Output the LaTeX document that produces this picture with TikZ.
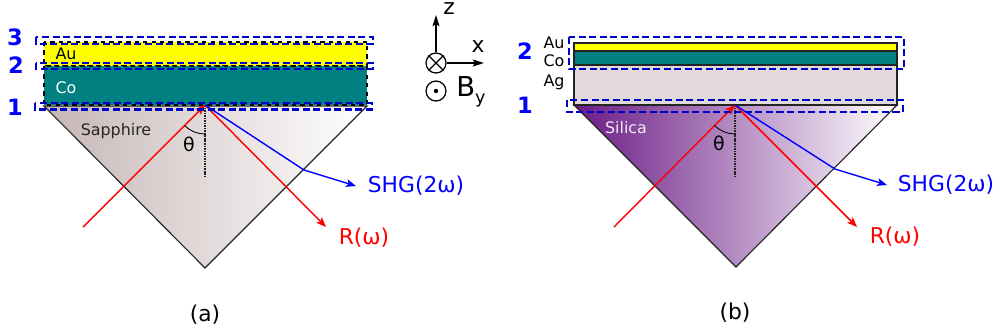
\documentclass[tikz,border=0pt]{standalone}
\usepackage{fontspec}
\setmainfont{DejaVu Sans}
\usepackage{xcolor}
\usetikzlibrary{arrows.meta}
\definecolor{goldlayer}{RGB}{255, 255, 0}
\definecolor{cobaltlayer}{RGB}{0, 128, 128}
\definecolor{silverlayer}{RGB}{226, 218, 218}
\definecolor{sapphireleft}{RGB}{198, 182, 182}
\definecolor{silicaleft}{RGB}{106, 27, 133}
\definecolor{regionblue}{RGB}{0, 0, 204}
\definecolor{labelblue}{RGB}{0, 0, 255}
\definecolor{darkline}{RGB}{35, 35, 35}

\begin{document}
\begin{tikzpicture}[
        x=0.025cm, y=-0.025cm,
        % Shape styles
        layerA/.style={draw=black, dashed, line width=0.9pt},
        layerB/.style={draw=darkline, line width=1.1pt},
        prism/.style={draw=darkline, line width=0.8pt},
        region/.style={draw=regionblue, dash pattern=on 5pt off 2.5pt, line width=1.6pt},
        normal/.style={draw=darkline, dash pattern=on 1.2pt off 0.6pt, line width=1pt},
        % Ray styles
        redray/.style={draw=red, -{Stealth[length=7pt, width=5.5pt, inset=1.5pt]}, line width=1pt},
        blueray/.style={draw=blue, -{Stealth[length=7pt, width=5.5pt, inset=1.5pt]}, line width=1pt},
        axis/.style={draw=black, -{Stealth[length=8pt, width=5pt, inset=1.5pt]}, line width=0.9pt},
        % Text styles
        small/.style={font=\fontsize{11.3}{13}\selectfont, inner sep=0pt},
        angle/.style={font=\fontsize{13.5}{15}\selectfont, inner sep=0pt},
        big/.style={font=\fontsize{15.5}{18}\selectfont, inner sep=0pt},
        number/.style={font=\fontsize{16}{18}\selectfont\bfseries, text=labelblue, inner sep=0pt}
    ]
    \useasboundingbox (0, 0) rectangle (995, 332);

    % Panel (a): prism
    \draw[prism, left color=sapphireleft, right color=white] (44, 106) -- (205, 268) -- (367, 106) -- cycle;

    % Panel (a): layers
    \draw[layerA, fill=goldlayer] (44, 42) rectangle (367, 66);
    \draw[layerA, fill=cobaltlayer] (44, 66) rectangle (367, 105);
    \node[small, text=black] (auA) at (66, 54) {Au};
    \node[small, text=white] (coA) at (66, 88) {Co};
    \node[small, text=black!85] (sapphire) at (116, 131) {Sapphire};

    % Panel (a): rays
    \coordinate (hitA) at (205, 105);
    \coordinate (inA) at (83, 227);
    \coordinate (outA) at (326, 227);
    \coordinate (kinkA) at (304, 170);
    \coordinate (endA) at (356, 186);
    \coordinate (normalA) at (205, 176);
    \draw[normal] (hitA) -- (normalA);
    \draw[redray] (inA) -- (hitA);
    \draw[redray] (hitA) -- (outA);
    \draw[blueray] (hitA) -- (kinkA) -- (endA);
    \draw[line width=0.6pt] (184.5, 125.5) arc[start angle=225, end angle=270, radius=0.725cm];
    \node[angle] (thetaA) at (189, 144) {θ};
    \node[big, text=labelblue] (shgA) at (416, 186) {SHG(2ω)};
    \node[big, text=red] (reflA) at (364, 238) {R(ω)};
    \node[big] (capA) at (205, 315) {(a)};

    % Panel (a): numbered regions
    \draw[region] (36, 37) rectangle (373, 44);
    \draw[region] (36, 63) rectangle (373, 69);
    \draw[region] (35, 103) rectangle (372, 109.5);
    \node[number] (threeA) at (15, 37) {3};
    \node[number] (twoA) at (16, 65) {2};
    \node[number] (oneA) at (15, 107) {1};

    % Axes
    \node[draw, circle, minimum size=0.5cm, inner sep=0pt, line width=0.9pt] (into) at (436, 63) {};
    \draw[line width=0.8pt] (into.45) -- (into.225);
    \draw[line width=0.8pt] (into.135) -- (into.315);
    \coordinate (zend) at (436, 15);
    \coordinate (xend) at (484, 63);
    \draw[axis] (into.north) -- (zend);
    \draw[axis] (into.east) -- (xend);
    \node[big] (zlabel) at (449, 9) {z};
    \node[big] (xlabel) at (478, 47) {x};
    \node[draw, circle, minimum size=0.5cm, inner sep=0pt, line width=0.9pt] (outof) at (436, 91) {};
    \node[fill, circle, minimum size=0.11cm, inner sep=0pt] (dot) at (outof) {};
    \node[anchor=west, inner sep=0pt, font=\fontsize{19.5}{22}\selectfont] (field) at (456, 92) {B\raisebox{-0.25em}{\fontsize{12.5}{14}\selectfont y}};

    % Panel (b): prism
    \draw[prism, left color=silicaleft, right color=white] (574, 105) -- (736, 267) -- (897, 105) -- cycle;

    % Panel (b): layers
    \draw[layerB, fill=silverlayer] (574, 65) rectangle (897, 105);
    \draw[layerB, fill=goldlayer] (574, 43) rectangle (897, 51);
    \draw[layerB, fill=cobaltlayer] (574, 51) rectangle (897, 65);
    \node[small] (auB) at (554, 43) {Au};
    \node[small] (coB) at (554, 61) {Co};
    \node[small] (agB) at (554, 82) {Ag};
    \node[small, text=white!90!silicaleft] (silica) at (626, 128) {Silica};

    % Panel (b): rays
    \coordinate (hitB) at (735, 105);
    \coordinate (inB) at (614, 227);
    \coordinate (outB) at (857, 227);
    \coordinate (kinkB) at (835, 169);
    \coordinate (endB) at (887, 185);
    \coordinate (normalB) at (735, 176);
    \draw[normal] (hitB) -- (normalB);
    \draw[redray] (inB) -- (hitB);
    \draw[redray, line width=1.2pt] (hitB) -- (outB);
    \draw[blueray] (hitB) -- (kinkB) -- (endB);
    \draw[line width=0.6pt] (714.5, 125.5) arc[start angle=225, end angle=270, radius=0.725cm];
    \node[angle] (thetaB) at (719, 143) {θ};
    \node[big, text=labelblue] (shgB) at (946, 185) {SHG(2ω)};
    \node[big, text=red] (reflB) at (895, 237) {R(ω)};
    \node[big] (capB) at (735, 313) {(b)};

    % Panel (b): numbered regions
    \draw[region] (569, 37) rectangle (904, 69);
    \draw[region] (567, 100) rectangle (903, 112);
    \node[number] (twoB) at (525, 51) {2};
    \node[number] (oneB) at (525, 105) {1};

\end{tikzpicture}
\end{document}
